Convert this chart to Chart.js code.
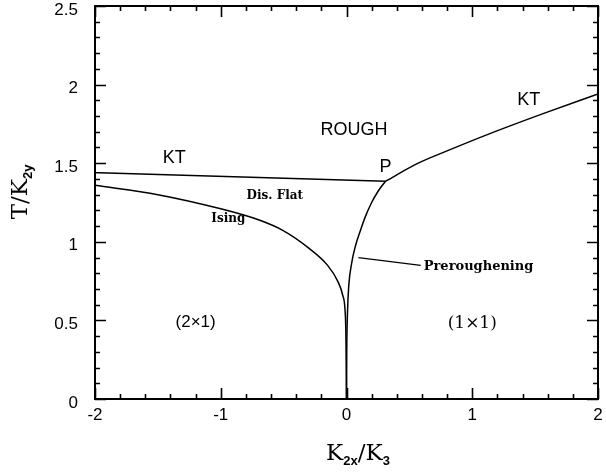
<!DOCTYPE html>
<html lang="en">
<head>
    <meta charset="UTF-8">
    <title>Phase diagram</title>
    <script src="https://cdn.jsdelivr.net/npm/chart.js"></script>
    <style>
        html, body { margin: 0; padding: 0; background: #fff; }
        #wrap { width: 606px; height: 476px; }
    </style>
</head>
<body>
    <div id="wrap"><canvas id="phaseChart" width="606" height="476"></canvas></div>

    <script>
        // phase boundaries (x = K2x/K3, y = T/K2y)
        const ktLeftX = [-2, 0.31];
        const ktLeftY = [1.44, 1.385];

        const ktRightX = [0.31, 0.57, 0.79, 1.13, 1.58, 2];
        const ktRightY = [1.385, 1.50, 1.575, 1.685, 1.82, 1.94];

        const isingX = [-2, -1.5, -1, -0.7, -0.5, -0.3, -0.15, -0.07, -0.03, -0.012, -0.005, -0.002, 0];
        const isingY = [1.36, 1.30, 1.21, 1.14, 1.07, 0.96, 0.85, 0.75, 0.66, 0.57, 0.42, 0.2, 0];

        const preroughX = [0, 0.002, 0.008, 0.018, 0.04, 0.07, 0.11, 0.15, 0.2, 0.25, 0.31];
        const preroughY = [0, 0.3, 0.55, 0.72, 0.86, 0.97, 1.07, 1.16, 1.25, 1.32, 1.385];

        const pointerX = [0.095, 0.59];
        const pointerY = [0.90, 0.85];

        const xTicks = [-2, -1, 0, 1, 2];
        const yTicks = [0, 0.5, 1, 1.5, 2, 2.5];

        function toPoints(xs, ys) {
            return xs.map((x, i) => ({ x: x, y: ys[i] }));
        }

        function line(xs, ys, width) {
            return {
                data: toPoints(xs, ys),
                showLine: true,
                borderColor: '#000',
                borderWidth: width,
                pointRadius: 0,
                cubicInterpolationMode: 'monotone',
                fill: false
            };
        }

        const sans = '"Liberation Sans", Arial, sans-serif';
        const serif = '"DejaVu Serif", serif';

        // text placed in data coordinates
        const labels = [
            { text: 'ROUGH', x: 0.06, y: 1.71, font: '18px ' + sans },
            { text: 'KT', x: -1.37, y: 1.53, font: '18px ' + sans },
            { text: 'KT', x: 1.45, y: 1.90, font: '18px ' + sans },
            { text: 'P', x: 0.31, y: 1.475, font: '18px ' + sans },
            { text: 'Dis. Flat', x: -0.57, y: 1.29, font: 'bold 12px ' + serif },
            { text: 'Ising', x: -0.94, y: 1.145, font: 'bold 12px ' + serif },
            { text: 'Preroughening', x: 1.05, y: 0.845, font: 'bold 13px ' + serif },
            { text: '(2\u00d71)', x: -1.2, y: 0.49, font: '17px ' + sans },
            { text: '(1\u00d71)', x: 1.0, y: 0.48, font: '17px ' + serif }
        ];

        // draws a title made of normal and subscript pieces, centred at (cx, cy)
        function drawPieces(ctx, pieces, cx, cy, rotate) {
            ctx.save();
            ctx.translate(cx, cy);
            if (rotate) ctx.rotate(-Math.PI / 2);
            let total = 0;
            pieces.forEach(p => {
                ctx.font = p.font;
                total += ctx.measureText(p.text).width;
            });
            let x = -total / 2;
            ctx.textBaseline = 'alphabetic';
            ctx.textAlign = 'left';
            ctx.fillStyle = '#000';
            pieces.forEach(p => {
                ctx.font = p.font;
                ctx.fillText(p.text, x, 8 + (p.dy || 0));
                x += ctx.measureText(p.text).width;
            });
            ctx.restore();
        }

        const framePlugin = {
            id: 'frame',
            afterDatasetsDraw(chart) {
                const ctx = chart.ctx;
                const area = chart.chartArea;
                const xs = chart.scales.x;
                const ys = chart.scales.y;

                ctx.save();
                ctx.strokeStyle = '#000';
                ctx.lineWidth = 2;
                ctx.strokeRect(area.left, area.top, area.right - area.left, area.bottom - area.top);

                ctx.lineWidth = 1.6;
                ctx.beginPath();
                // x ticks, minor every 0.2, on bottom and top
                for (let i = 0; i <= 20; i++) {
                    const v = -2 + i * 0.2;
                    const px = Math.round(xs.getPixelForValue(v)) + 0.5;
                    const len = (i % 5 === 0) ? 11 : 5;
                    ctx.moveTo(px, area.bottom);
                    ctx.lineTo(px, area.bottom - len);
                    ctx.moveTo(px, area.top);
                    ctx.lineTo(px, area.top + len);
                }
                // y ticks, minor every 0.1, on left and right
                for (let i = 0; i <= 25; i++) {
                    const v = i * 0.1;
                    const py = Math.round(ys.getPixelForValue(v)) + 0.5;
                    const len = (i % 5 === 0) ? 11 : 5;
                    ctx.moveTo(area.left, py);
                    ctx.lineTo(area.left + len, py);
                    ctx.moveTo(area.right, py);
                    ctx.lineTo(area.right - len, py);
                }
                ctx.stroke();

                // region labels
                ctx.fillStyle = '#000';
                ctx.textAlign = 'center';
                ctx.textBaseline = 'middle';
                labels.forEach(l => {
                    ctx.font = l.font;
                    ctx.fillText(l.text, xs.getPixelForValue(l.x), ys.getPixelForValue(l.y));
                });

                // axis titles with subscripts
                const big = '23px ' + serif;
                const sub = 'bold 13px ' + sans;
                drawPieces(ctx, [
                    { text: 'K', font: big },
                    { text: '2x', font: sub, dy: 5 },
                    { text: '/K', font: big },
                    { text: '3', font: sub, dy: 5 }
                ], 358, 452, false);
                drawPieces(ctx, [
                    { text: 'T/K', font: big },
                    { text: '2y', font: sub, dy: 5 }
                ], 19, 192, true);
                ctx.restore();
            }
        };

        new Chart(document.getElementById('phaseChart').getContext('2d'), {
            type: 'scatter',
            data: {
                datasets: [
                    line(ktLeftX, ktLeftY, 1.5),
                    line(ktRightX, ktRightY, 1.5),
                    line(isingX, isingY, 1.5),
                    line(preroughX, preroughY, 1.5),
                    line(pointerX, pointerY, 1.3)
                ]
            },
            options: {
                responsive: false,
                animation: false,
                layout: { padding: { top: 6, right: 8, left: 0, bottom: 0 } },
                plugins: {
                    legend: { display: false },
                    tooltip: { enabled: false }
                },
                scales: {
                    x: {
                        type: 'linear',
                        min: -2,
                        max: 2,
                        afterBuildTicks: scale => { scale.ticks = xTicks.map(v => ({ value: v })); },
                        afterFit: scale => {
                            scale.height = 77;
                            scale.paddingLeft = 0;
                            scale.paddingRight = 0;
                        },
                        grid: { display: false, drawTicks: false },
                        border: { display: false },
                        ticks: {
                            color: '#000',
                            padding: 6,
                            maxRotation: 0,
                            callback: v => String(v),
                            font: { family: '"Liberation Sans", Arial, sans-serif', size: 17 }
                        }
                    },
                    y: {
                        type: 'linear',
                        min: 0,
                        max: 2.5,
                        afterBuildTicks: scale => { scale.ticks = yTicks.map(v => ({ value: v })); },
                        afterFit: scale => {
                            scale.width = 95;
                            scale.paddingTop = 0;
                            scale.paddingBottom = 0;
                        },
                        grid: { display: false, drawTicks: false },
                        border: { display: false },
                        ticks: {
                            color: '#000',
                            padding: 17,
                            labelOffset: 4,
                            callback: v => String(v),
                            font: { family: '"Liberation Sans", Arial, sans-serif', size: 17 }
                        }
                    }
                }
            },
            plugins: [framePlugin]
        });
    </script>
</body>
</html>
